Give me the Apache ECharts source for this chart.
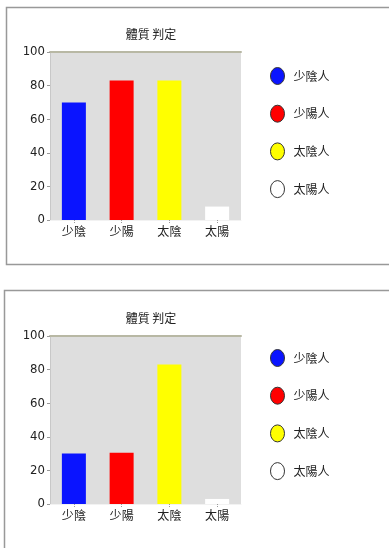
<!DOCTYPE html>
<html>
<head>
<meta charset="utf-8">
<script src="https://cdn.jsdelivr.net/npm/echarts@6/dist/echarts.min.js"></script>
<style>html,body{margin:0;padding:0;background:#fff}#c{width:389px;height:548px}</style>
</head>
<body>
<div id="c"></div>
<script>
var titleText = '體質 判定';
var categories = ['少陰', '少陽', '太陰', '太陽'];
var legendNames = ['少陰人', '少陽人', '太陰人', '太陽人'];
var colors = ['#0a14ff', '#ff0000', '#ffff00', '#ffffff'];
var valuesTop = [70, 83, 83, 8];
var valuesBottom = [30, 30.5, 83, 3];
var yTicks = [0, 20, 40, 60, 80, 100];

var FONT = "'Liberation Sans Narrow', 'DejaVu Sans Condensed', 'Noto Sans CJK TC', sans-serif";
var CJK = "'Noto Sans CJK TC', sans-serif";

var grids = [
  {left: 50, top: 52, width: 191, height: 168},
  {left: 50, top: 336, width: 191, height: 168}
];

function mkSeries(values, gi) {
  return values.map(function (v, i) {
    var d = values.map(function (_, j) { return j === i ? v : '-'; });
    return {
      type: 'bar', name: legendNames[i], xAxisIndex: gi * 2, yAxisIndex: gi,
      data: d, barWidth: 24, barGap: '-100%',
      itemStyle: {color: colors[i], borderWidth: 0},
      emphasis: {disabled: true}, animation: false
    };
  });
}

var xAxes = [], yAxes = [];
grids.forEach(function (g, gi) {
  xAxes.push({
    type: 'category', gridIndex: gi, data: categories,
    axisLine: {show: true, lineStyle: {color: '#f2f2f2', width: 1}},
    axisTick: {show: true, alignWithLabel: true, length: 3, lineStyle: {color: '#999', type: 'dotted'}},
    axisLabel: {fontFamily: CJK, fontSize: 12, color: '#222', margin: 5}
  });
  xAxes.push({
    type: 'category', gridIndex: gi, position: 'top', data: categories,
    axisLine: {show: true, lineStyle: {color: '#b8b8a4', width: 2}},
    axisTick: {show: false}, axisLabel: {show: false}
  });
  yAxes.push({
    type: 'value', gridIndex: gi, min: yTicks[0], max: yTicks[yTicks.length - 1], interval: yTicks[1] - yTicks[0],
    axisLine: {show: true, lineStyle: {color: '#c8c8c8'}},
    axisTick: {show: true, length: 3, lineStyle: {color: '#999'}},
    splitLine: {show: false},
    axisLabel: {fontFamily: FONT, fontSize: 13, color: '#222', margin: 5}
  });
});

var legendIcon = 'path://M50,0A50,50,0,1,1,50,100A50,50,0,1,1,50,0Z';
function mkLegend(top) {
  return {
    orient: 'vertical', left: 265, top: top, itemWidth: 14, itemHeight: 17, itemGap: 19.7,
    icon: legendIcon, symbolKeepAspect: false, selectedMode: false,
    data: legendNames,
    itemStyle: {borderColor: '#333', borderWidth: 1},
    textStyle: {fontFamily: CJK, fontSize: 12, color: '#222', padding: [0, 0, 0, 4]}
  };
}

var chart = echarts.init(document.getElementById('c'), null, {renderer: 'canvas'});
chart.setOption({
  animation: false,
  backgroundColor: '#fff',
  title: [
    {text: titleText, left: 146, top: 23, textAlign: 'center', textStyle: {fontFamily: CJK, fontSize: 12, fontWeight: 'normal', color: '#222'}},
    {text: titleText, left: 146, top: 307, textAlign: 'center', textStyle: {fontFamily: CJK, fontSize: 12, fontWeight: 'normal', color: '#222'}}
  ],
  graphic: [
    {type: 'rect', shape: {x: 6.5, y: 7.5, width: 600, height: 257}, style: {fill: 'none', stroke: '#999', lineWidth: 1.5}, silent: true},
    {type: 'rect', shape: {x: 4.5, y: 290.5, width: 600, height: 400}, style: {fill: 'none', stroke: '#999', lineWidth: 1.5}, silent: true}
  ],
  grid: grids.map(function (g) { return Object.assign({show: true, backgroundColor: '#dedede', borderWidth: 0}, g); }),
  legend: [mkLegend(62), mkLegend(344)],
  tooltip: {show: false},
  xAxis: xAxes,
  yAxis: yAxes,
  series: mkSeries(valuesTop, 0).concat(mkSeries(valuesBottom, 1))
});
</script>
</body>
</html>
